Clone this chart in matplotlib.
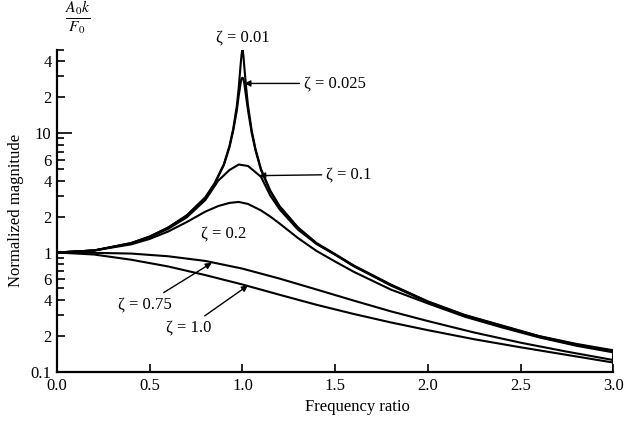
import matplotlib
matplotlib.use('Agg')
import matplotlib.pyplot as plt
from matplotlib.ticker import NullFormatter

plt.rcParams['font.family'] = ['Liberation Serif', 'DejaVu Serif']
plt.rcParams['mathtext.fontset'] = 'stix'

# values (frequency ratio -> normalized magnitude)
r_sharp = [0, 0.2, 0.4, 0.5, 0.6, 0.7, 0.8, 0.85, 0.9, 0.93, 0.95, 0.97, 0.98,
           0.99, 0.995, 1.0, 1.005, 1.01, 1.02, 1.03, 1.05, 1.07, 1.1, 1.15,
           1.2, 1.3, 1.4, 1.5, 1.6, 1.8, 2.0, 2.2, 2.4, 2.6, 2.8, 3.0]
mag_001 = [1.0, 1.04, 1.2, 1.36, 1.62, 2.05, 2.9, 3.8, 5.5, 7.8, 10.8, 17, 24,
           37, 45, 50, 45, 36, 24, 17, 10.5, 7.4, 5.0, 3.3,
           2.45, 1.62, 1.2, 0.97, 0.78, 0.54, 0.39, 0.3, 0.245, 0.2, 0.172, 0.152]
mag_0025 = [1.0, 1.04, 1.2, 1.36, 1.62, 2.04, 2.88, 3.75, 5.4, 7.6, 10.4, 15.5, 20.5,
            26, 28.5, 29, 28.5, 26, 20, 15.5, 10, 7.2, 4.9, 3.25,
            2.42, 1.6, 1.18, 0.96, 0.77, 0.535, 0.388, 0.298, 0.243, 0.199, 0.17, 0.15]

r_mid = [0, 0.2, 0.4, 0.5, 0.6, 0.7, 0.8, 0.87, 0.93, 0.98, 1.03, 1.1, 1.15,
         1.2, 1.3, 1.4, 1.5, 1.6, 1.8, 2.0, 2.2, 2.4, 2.6, 2.8, 3.0]
mag_01 = [1.0, 1.04, 1.19, 1.34, 1.58, 1.97, 2.75, 4.0, 4.9, 5.45, 5.3, 4.3, 3.0,
          2.3, 1.55, 1.18, 0.96, 0.77, 0.53, 0.385, 0.296, 0.24, 0.197, 0.168, 0.148]
mag_02 = [1.0, 1.04, 1.17, 1.3, 1.5, 1.8, 2.2, 2.45, 2.6, 2.65, 2.55, 2.25, 2.0,
          1.75, 1.32, 1.03, 0.84, 0.69, 0.49, 0.375, 0.29, 0.236, 0.195, 0.166, 0.146]

r_wide = [0, 0.2, 0.4, 0.6, 0.8, 1.0, 1.2, 1.4, 1.6, 1.8, 2.0, 2.25, 2.5, 2.75, 3.0]
mag_075 = [1.0, 0.994, 0.98, 0.93, 0.85, 0.733, 0.605, 0.49, 0.396, 0.322, 0.267,
           0.214, 0.176, 0.148, 0.126]
mag_10 = [1.0, 0.962, 0.87, 0.764, 0.647, 0.54, 0.443, 0.365, 0.306, 0.26, 0.224,
          0.188, 0.161, 0.139, 0.12]

xticks = [0.0, 0.5, 1.0, 1.5, 2.0, 2.5, 3.0]
xlabels = ['0.0', '0.5', '1.0', '1.5', '2.0', '2.5', '3.0']
yticks = [0.1, 0.2, 0.4, 0.6, 1, 2, 4, 6, 10, 20, 40]
ylabels = ['0.1', '2', '4', '6', '1', '2', '4', '6', '10', '2', '4']
yminor = [0.3, 0.5, 0.7, 0.8, 0.9, 3, 5, 7, 8, 9, 30, 50]

fig = plt.figure(figsize=(6.27, 4.21), dpi=100)
ax = fig.add_axes([0.091, 0.1164, 0.887, 0.766])

lw = 1.5
ax.plot(r_sharp, mag_001, color='black', lw=lw)
ax.plot(r_sharp, mag_0025, color='black', lw=lw)
ax.plot(r_mid, mag_01, color='black', lw=lw)
ax.plot(r_mid, mag_02, color='black', lw=lw)
ax.plot(r_wide, mag_075, color='black', lw=lw)
ax.plot(r_wide, mag_10, color='black', lw=lw)
# closing stroke at the right end of the curves
ax.vlines(r_sharp[-1], 0.1, mag_001[-1], color='black', lw=lw)

ax.set_yscale('log')
ax.set_xlim(0, 3.0)
ax.set_ylim(0.1, 50)

for s in ['top', 'right']:
    ax.spines[s].set_visible(False)
for s in ['left', 'bottom']:
    ax.spines[s].set_linewidth(1.6)

ax.set_xticks(xticks, labels=xlabels)
ax.set_yticks(yticks, labels=ylabels)
ax.set_yticks(yminor, minor=True)
ax.yaxis.set_minor_formatter(NullFormatter())
ax.tick_params(axis='both', which='major', direction='in', length=6, width=1.2,
               labelsize=12, pad=4)
ax.tick_params(axis='y', which='minor', direction='in', length=5, width=1.2)
ax.yaxis.get_major_ticks()[yticks.index(10)].tick1line.set_markersize(11)

ax.set_xlabel('Frequency ratio', fontsize=12)
ax.xaxis.set_label_coords(0.54, -0.085)
ax.set_ylabel('Normalized magnitude', fontsize=12)
ax.yaxis.set_label_coords(-0.06, 0.5)
ax.text(0.037, 1.1, r'$\frac{A_0k}{F_0}$', transform=ax.transAxes,
        ha='center', va='center', fontsize=16)

akw = dict(arrowstyle='-|>', color='black', lw=1.0, mutation_scale=9,
           shrinkA=1, shrinkB=0)
ax.text(1.0, 63, 'ζ = 0.01', ha='center', va='center', fontsize=12)
ax.annotate('ζ = 0.025', xy=(1.01, 26), xytext=(1.33, 26), ha='left',
            va='center', fontsize=12, arrowprops=akw)
ax.annotate('ζ = 0.1', xy=(1.09, 4.4), xytext=(1.45, 4.5), ha='left',
            va='center', fontsize=12, arrowprops=akw)
ax.text(0.9, 1.44, 'ζ = 0.2', ha='center', va='center', fontsize=12)
ax.annotate('ζ = 0.75', xy=(0.835, 0.82), xytext=(0.62, 0.37), ha='right',
            va='center', fontsize=12, arrowprops=akw)
ax.annotate('ζ = 1.0', xy=(1.03, 0.53), xytext=(0.83, 0.236), ha='right',
            va='center', fontsize=12, arrowprops=akw)

fig.savefig('out.png', dpi=100)
